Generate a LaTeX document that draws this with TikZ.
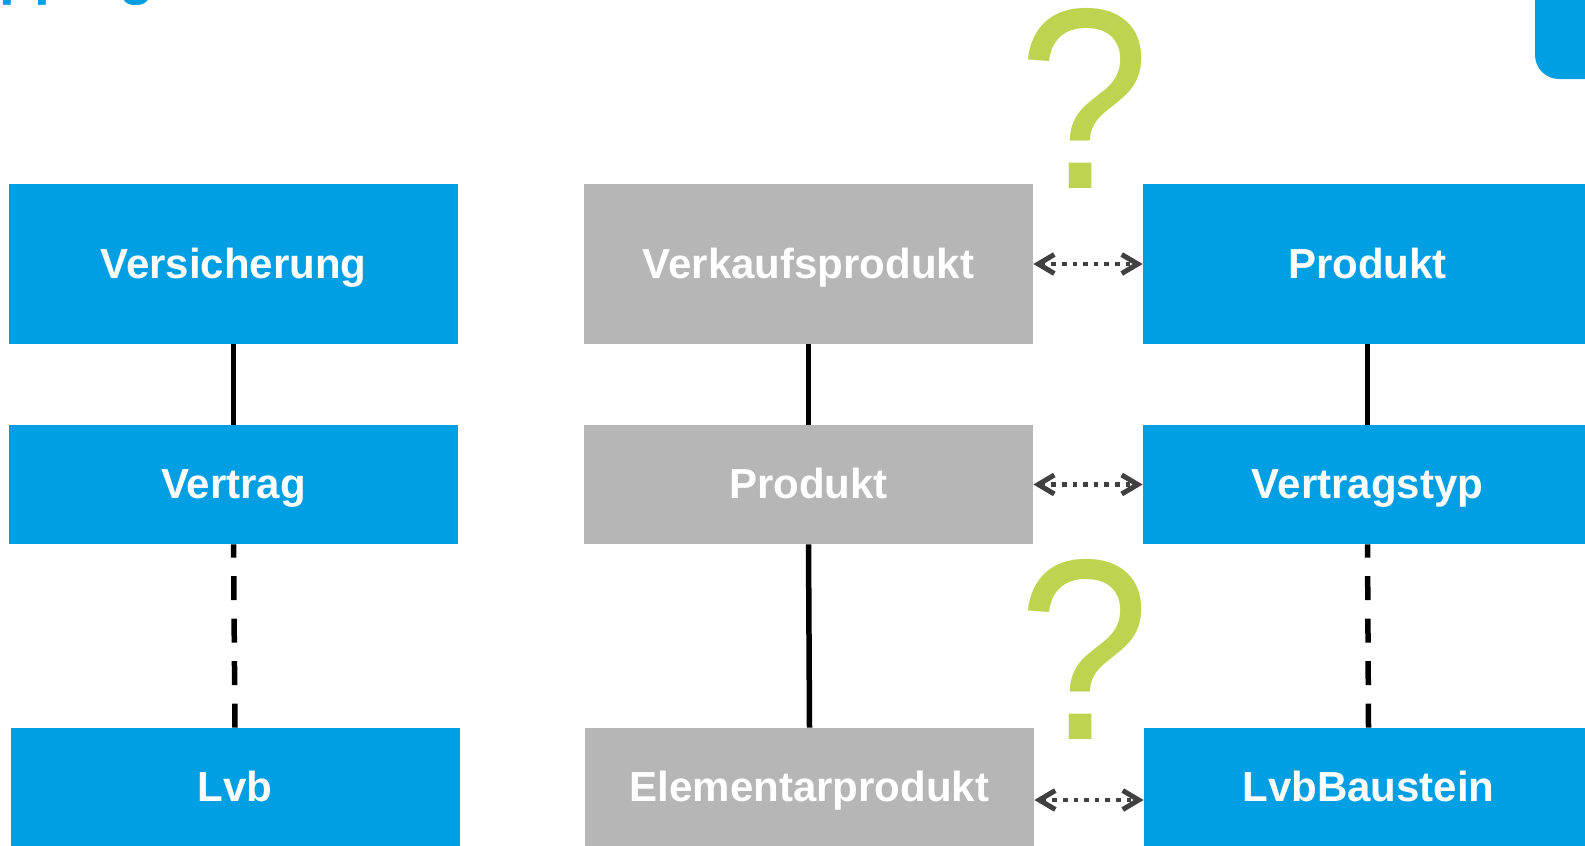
\documentclass[tikz,border=0pt]{standalone}
\usepackage{fontspec}
\setmainfont{Liberation Sans}
\usetikzlibrary{arrows.meta}
\definecolor{cblue}{RGB}{0,159,227}
\definecolor{cgrey}{RGB}{182,182,182}
\definecolor{cgreen}{RGB}{190,211,80}
\definecolor{carrow}{RGB}{64,64,64}
\begin{document}
\begin{tikzpicture}[x=0.5pt,y=-0.5pt,
 box/.style={inner sep=0pt, minimum width=224.5pt, text height=15pt, text depth=0.8pt, text=white, font=\bfseries\fontsize{21}{25}\selectfont},
 bluebox/.style={box, fill=cblue},
 greybox/.style={box, fill=cgrey},
 tall/.style={minimum height=80pt},
 short/.style={minimum height=59.5pt},
 link/.style={draw=black, line width=2.75pt},
 dlink/.style={link, dash pattern=on 12pt off 9.25pt},
 map/.style={draw=carrow, line width=2.3pt, dash pattern=on 2.3pt off 3pt,
   {Straight Barb[length=8pt,width=9.5pt,line width=2.5pt]}-{Straight Barb[length=8pt,width=9.5pt,line width=2.5pt]}},
 qmark/.style={text=cgreen, font=\fontsize{129}{129}\selectfont, inner sep=0pt, anchor=base}
]
\useasboundingbox (0,0) rectangle (1585,846);
\clip (0,0) rectangle (1585,846);

\node[anchor=base west, text=cblue, font=\bfseries\fontsize{28.5}{30}\selectfont, inner sep=0pt] (title) at (-80,-6) {Mapping};
\fill[cblue, rounded corners=12pt] (1535,-60) rectangle (1700,79);

% left column
\node[bluebox, tall]  (vers) at (233.5,264)   {Versicherung};
\node[bluebox, short] (vert) at (233.5,484.5) {Vertrag};
\node[bluebox, short] (lvb)  at (235,787.5)   {Lvb};

% middle column
\node[greybox, tall]  (vk)   at (808.5,264)   {Verkaufsprodukt};
\node[greybox, short] (prodg) at (808.5,484.5) {Produkt};
\node[greybox, short] (elem) at (809.5,787.5) {Elementarprodukt};

% right column
\node[bluebox, tall]  (prodb) at (1367.5,264)   {Produkt};
\node[bluebox, short] (vtyp)  at (1367.5,484.5) {Vertragstyp};
\node[bluebox, short] (lvbb)  at (1368.5,787.5) {LvbBaustein};

% connectors
\draw[link] (vers.south) -- (vert.north);
\draw[dlink] (lvb.north) -- (vert.south);
\draw[link] (vk.south) -- (prodg.north);
\draw[link] (prodg.south) -- (elem.north);
\draw[link] (prodb.south) -- (vtyp.north);
\draw[dlink] (lvbb.north) -- (vtyp.south);

% mapping arrows
\draw[map] (vk.east) -- (prodb.west);
\draw[map] (prodg.east) -- (vtyp.west);
\draw[map] ([yshift=-6.25pt]elem.east) -- ([yshift=-6.25pt]lvbb.west);

% question marks
\node[qmark] (q1) at (1084,188) {\scalebox{0.92}[1]{?}};
\node[qmark] (q2) at (1084,739) {\scalebox{0.92}[1]{?}};
\end{tikzpicture}
\end{document}
